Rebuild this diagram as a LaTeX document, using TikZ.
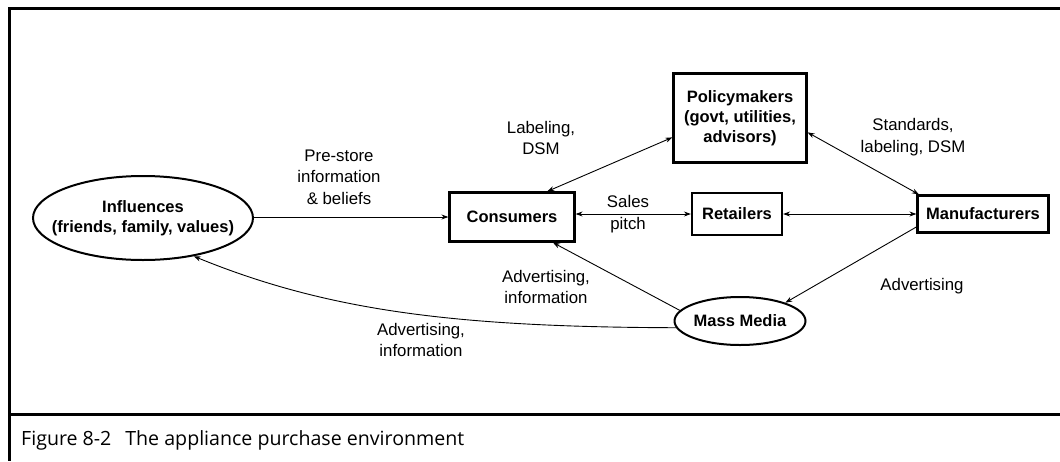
\documentclass[tikz,border=0pt]{standalone}
\usepackage{fontspec}
\setmainfont{Liberation Sans}
\newfontfamily\capfont{Open Sans}
\usetikzlibrary{shapes.geometric,arrows.meta}
\begin{document}
\begin{tikzpicture}[x=1pt,y=-1pt,
  boxnode/.style={draw, line width=2.2pt, inner sep=0pt, font=\fontsize{16.5}{20}\selectfont\bfseries, align=center},
  ellnode/.style={draw, ellipse, line width=2pt, inner sep=0pt},
  lbl/.style={font=\fontsize{16.8}{21.5}\selectfont, align=center, inner sep=0pt},
  arr/.style={-{Stealth[length=7pt,width=5pt]}, line width=0.9pt},
  darr/.style={{Stealth[length=7pt,width=5pt]}-{Stealth[length=7pt,width=5pt]}, line width=0.9pt},
  frame/.style={line width=3pt}]
\useasboundingbox (0,0) rectangle (1060,461);
% frame
\coordinate (tl) at (9,8);
\coordinate (tr) at (1060,8);
\coordinate (bl) at (9,461);
\coordinate (sl) at (9,414);
\coordinate (sr) at (1060,414);
\draw[frame] (tr) -- (tl) -- (bl);
\draw[frame] (sl) -- (sr);
% nodes
\node[ellnode, minimum width=220pt, minimum height=84pt,
  label={[font=\fontsize{16.5}{20}\selectfont\bfseries, align=center]center:Influences\\(friends, family, values)}] (infl) at (143,218) {};
\node[boxnode, minimum width=125pt, minimum height=49pt] (cons) at (512,217) {Consumers};
\node[boxnode, minimum width=90pt, minimum height=42pt] (ret) at (737,214) {Retailers};
\node[boxnode, minimum width=131pt, minimum height=37pt] (manu) at (983,214) {Manufacturers};
\node[boxnode, minimum width=133pt, minimum height=89pt] (pol) at (740,118) {Policymakers\\(govt, utilities,\\advisors)};
\node[ellnode, minimum width=125pt, minimum height=48pt, font=\fontsize{16.5}{20}\selectfont\bfseries] (mm) at (740,321) {Mass Media};
% connectors
\draw[arr] (infl.east |- cons.west) -- (cons.west);
\draw[darr] (cons.east |- ret.west) -- (ret.west);
\draw[darr] (ret.east) -- (manu.west);
\draw[darr] (cons.36) -- (pol.196);
\draw[darr] (pol.-12) -- (manu.163);
\draw[arr] (manu.191) -- (mm.22);
\draw[arr] (mm.170) -- (cons.-32);
\draw[arr] (mm.186) .. controls (460,327) and (330,312) .. (infl.-37);
% labels
\node[lbl] (l1) at (339,177) {Pre-store\\information\\\& beliefs};
\node[lbl] (l2) at (541,138) {Labeling,\\DSM};
\node[lbl] (l3) at (913,137) {Standards,\\labeling, DSM};
\node[lbl] (l4) at (628,214) {Sales\\pitch};
\node[lbl] (l5) at (546,287) {Advertising,\\information};
\node[lbl] (l6) at (922,286) {Advertising};
\node[lbl] (l7) at (421,340) {Advertising,\\information};
\node[anchor=base west, inner sep=0pt, font=\capfont\fontsize{19.6}{22}\selectfont] (cap) at (21,445) {Figure 8-2\hspace{0.45em} The appliance purchase environment};
\end{tikzpicture}
\end{document}
